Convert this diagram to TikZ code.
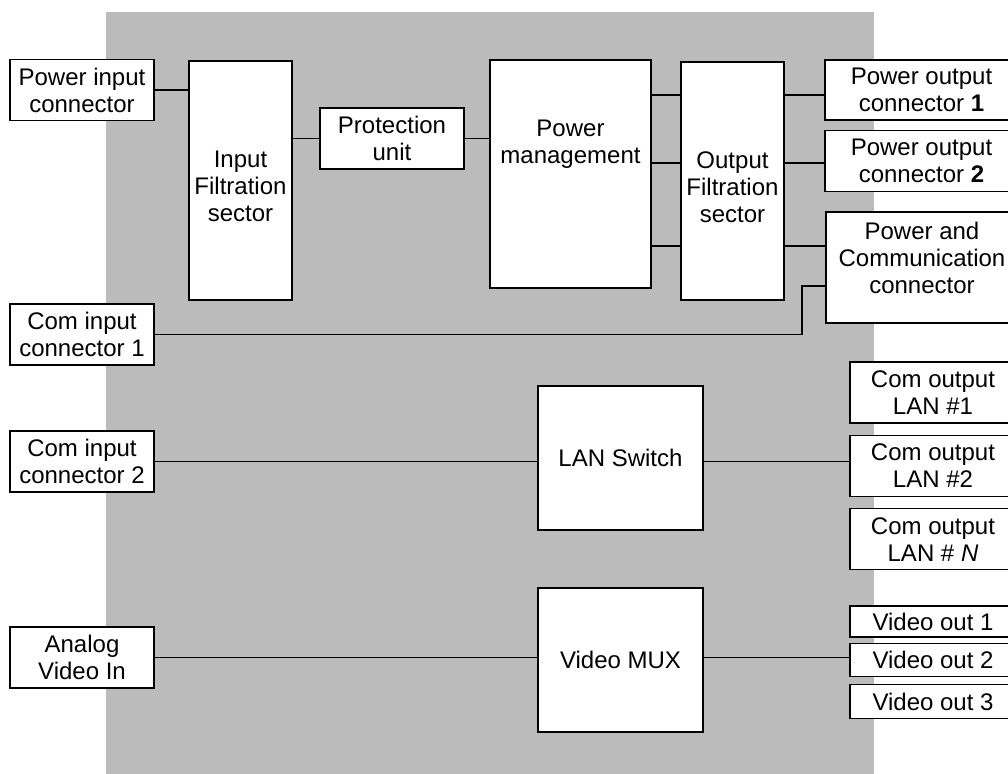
\documentclass[tikz,border=0pt]{standalone}
\usepackage{fontspec}
\setmainfont{Liberation Sans}
\usetikzlibrary{positioning}
\definecolor{panelgray}{RGB}{187,187,187}

\begin{document}
\begin{tikzpicture}[x=0.5pt, y=-0.5pt]
    \tikzset{
        block/.style = {rectangle, draw=black, fill=white, line width=0.7pt,
                        align=center, inner sep=1pt,
                        font=\fontsize{12}{13.5}\selectfont},
        conn/.style  = {block, minimum width=72pt, minimum height=30.5pt},
        outbox/.style = {block, minimum width=83pt},
        inlabel/.style = {align=center, font=\fontsize{12}{13.5}\selectfont},
        line/.style  = {line width=0.7pt}
    }

    \useasboundingbox (0,0) rectangle (1008,774);

    % grey housing
    \fill[panelgray] (106,12) rectangle (874,780);

    % inputs
    \node [conn] (pin)  at (82,90)    {Power input\\connector};
    \node [conn] (cin1) at (82,334.5) {Com input\\connector 1};
    \node [conn] (cin2) at (82,461.5) {Com input\\connector 2};
    \node [conn] (avin) at (82,657.5) {Analog\\Video In};

    % power chain
    \node [block, minimum width=51.5pt, minimum height=119.5pt,
           label={[inlabel, yshift=-3pt]center:Input\\Filtration\\sector}] (infilt) at (240.5,180.5) {};
    \node [conn] (prot) at (392,138.5) {Protection\\unit};
    \node [block, minimum width=80.5pt, minimum height=114pt,
           label={[inlabel, yshift=15pt]center:Power\\management}] (pman) at (570.5,174) {};
    \node [block, minimum width=51.5pt, minimum height=119pt,
           label={[inlabel, yshift=-3pt]center:Output\\Filtration\\sector}] (ofilt) at (732.5,181) {};

    % power outputs
    \node [block, minimum width=96.5pt, minimum height=30pt] (po1) at (921.5,90) {Power output\\connector \textbf{1}};
    \node [block, minimum width=96.5pt, minimum height=30.5pt, below=4.5pt of po1] (po2) {Power output\\connector \textbf{2}};
    \node [block, minimum width=96pt, minimum height=55.5pt,
           label={[inlabel, yshift=5pt]center:Power and\\Communication\\connector}] (pc) at (922,267.5) {};

    % communication
    \node [block, minimum width=82.5pt, minimum height=72pt] (lan) at (620.5,458) {LAN Switch};
    \node [outbox, minimum height=30.5pt] (lan1) at (933,392.5) {Com output\\LAN \#1};
    \node [outbox, minimum height=30.5pt, below=5.5pt of lan1] (lan2) {Com output\\LAN \#2};
    \node [outbox, minimum height=30.5pt, below=5.5pt of lan2] (lanN) {Com output\\LAN \# \textit{N}};

    % video
    \node [block, minimum width=82.5pt, minimum height=72pt] (vmux) at (620.5,660) {Video MUX};
    \node [outbox, minimum height=15.5pt] (vout1) at (933,621.5) {Video out 1};
    \node [outbox, minimum height=16.5pt, below=2.5pt of vout1] (vout2) {Video out 2};
    \node [outbox, minimum height=17pt, below=3.5pt of vout2] (vout3) {Video out 3};

    % connections, power
    \draw [line] (pin.east) -- (pin.east -| infilt.west);
    \draw [line] (prot.west -| infilt.east) -- (prot.west);
    \draw [line] (prot.east) -- (prot.east -| pman.west);
    \foreach \y in {95,163,246} {
        \draw [line] (pman.east |- 0,\y) -- (ofilt.west |- 0,\y);
    }
    \draw [line] (ofilt.east |- 0,95)  -- (po1.west |- 0,95);
    \draw [line] (ofilt.east |- 0,163) -- (po2.west |- 0,163);
    \draw [line] (ofilt.east |- 0,246) -- (pc.west |- 0,246);

    % com input 1 to combined connector
    \coordinate (bend) at (802,286);
    \draw [line] (cin1.east) -| (bend) -- (bend -| pc.west);

    % LAN and video
    \draw [line] (cin2.east) -- (cin2.east -| lan.west);
    \draw [line] (lan.east |- cin2.east) -- (cin2.east -| lan2.west);
    \draw [line] (avin.east) -- (avin.east -| vmux.west);
    \draw [line] (vmux.east |- avin.east) -- (avin.east -| vout2.west);

\end{tikzpicture}
\end{document}
